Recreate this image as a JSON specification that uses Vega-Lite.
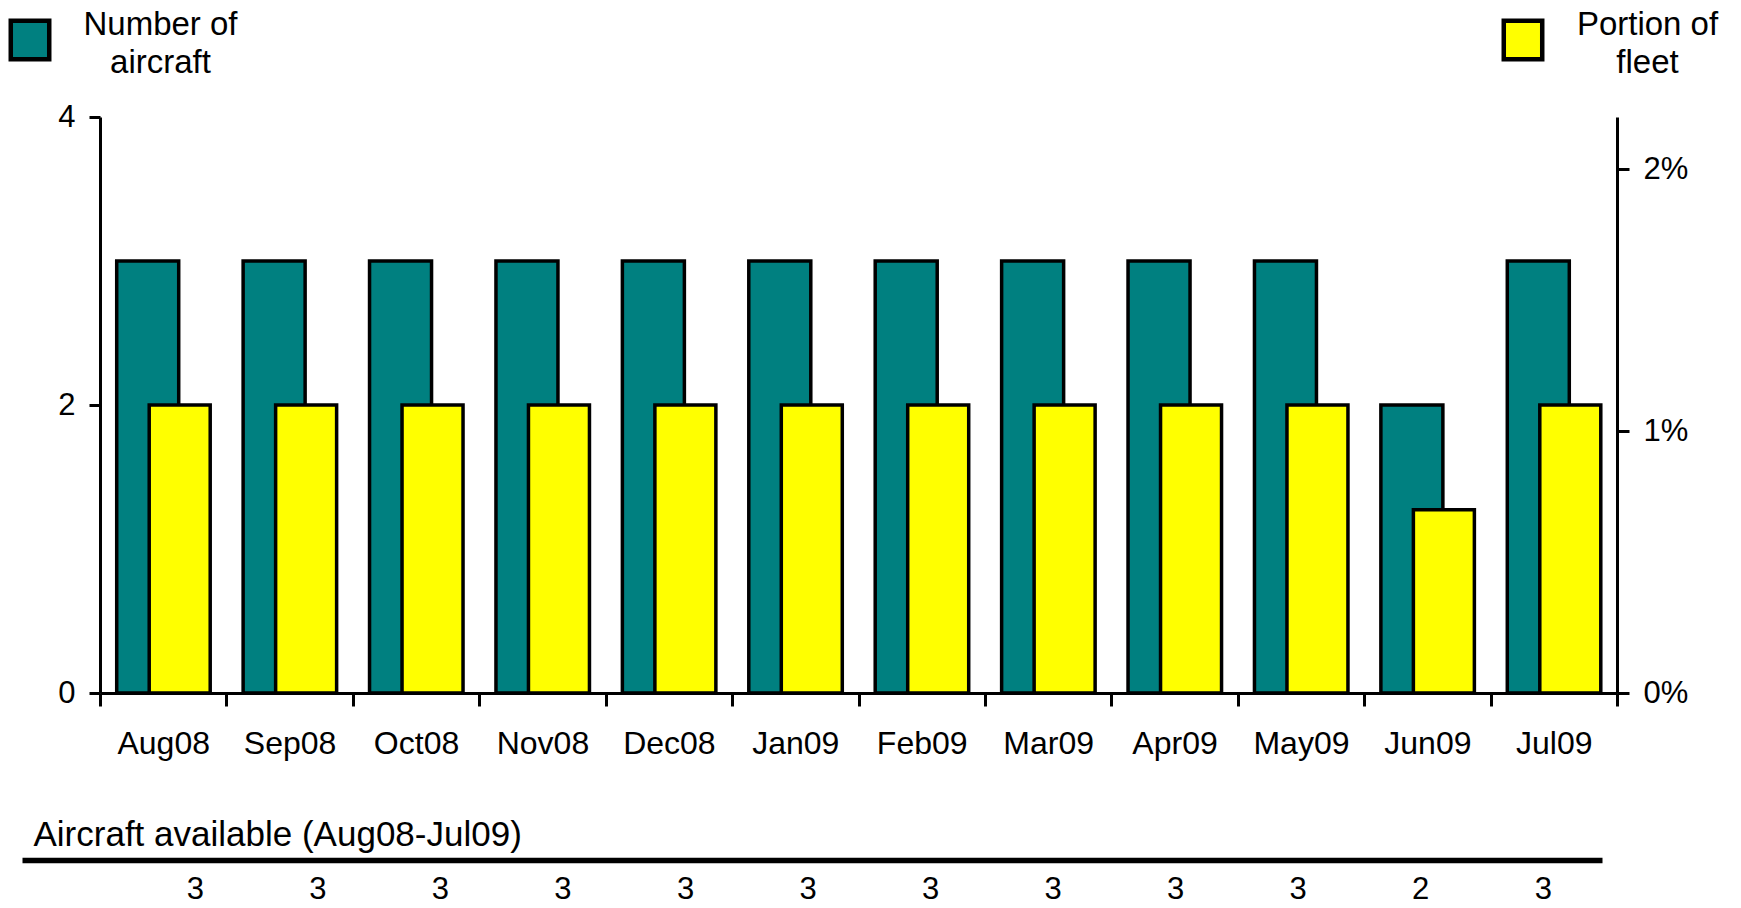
{
  "$schema": "https://vega.github.io/schema/vega-lite/v6.json",
  "background": "white",
  "padding": {"left": 8, "top": 18, "right": 0, "bottom": 0},
  "config": {
    "view": {"stroke": null},
    "font": "Liberation Sans",
    "axis": {"labelFont": "Liberation Sans", "titleFont": "Liberation Sans", "labelColor": "black", "titleColor": "black", "domainColor": "black", "tickColor": "black", "grid": false},
    "legend": {"labelFont": "Liberation Sans", "titleFont": "Liberation Sans"}
  },
  "data": {
    "values": [
      {"month": "Aug08", "aircraft": 3, "portion": 0.011, "available": 3},
      {"month": "Sep08", "aircraft": 3, "portion": 0.011, "available": 3},
      {"month": "Oct08", "aircraft": 3, "portion": 0.011, "available": 3},
      {"month": "Nov08", "aircraft": 3, "portion": 0.011, "available": 3},
      {"month": "Dec08", "aircraft": 3, "portion": 0.011, "available": 3},
      {"month": "Jan09", "aircraft": 3, "portion": 0.011, "available": 3},
      {"month": "Feb09", "aircraft": 3, "portion": 0.011, "available": 3},
      {"month": "Mar09", "aircraft": 3, "portion": 0.011, "available": 3},
      {"month": "Apr09", "aircraft": 3, "portion": 0.011, "available": 3},
      {"month": "May09", "aircraft": 3, "portion": 0.011, "available": 3},
      {"month": "Jun09", "aircraft": 2, "portion": 0.007, "available": 2},
      {"month": "Jul09", "aircraft": 3, "portion": 0.011, "available": 3}
    ]
  },
  "spacing": 58,
  "vconcat": [
    {
      "width": 1517,
      "height": 576,
      "layer": [
        {
          "mark": {"type": "bar", "stroke": "black", "strokeWidth": 3.5, "width": 62, "xOffset": -15.5},
          "encoding": {
            "x": {
              "field": "month", "type": "nominal", "sort": null,
              "scale": {"paddingInner": 0, "paddingOuter": 0},
              "axis": {
                "orient": "bottom", "title": null, "labelAngle": 0,
                "tickBand": "extent", "tickSize": 13, "tickWidth": 3,
                "domainWidth": 3, "labelFontSize": 32, "labelPadding": 22
              }
            },
            "y": {
              "field": "aircraft", "type": "quantitative",
              "scale": {"domain": [0, 4], "nice": false},
              "axis": {
                "orient": "left", "title": null, "values": [0, 2, 4],
                "tickSize": 11, "tickWidth": 3, "domainWidth": 3,
                "labelFontSize": 31, "labelPadding": 14
              }
            },
            "fill": {
              "datum": "Number of aircraft",
              "scale": {"range": ["#008080"]},
              "legend": {
                "orient": "none", "legendX": -91.5, "legendY": -98.5,
                "padding": 0,
                "title": ["Number of", "aircraft"],
                "titleOrient": "right", "titleAnchor": "middle",
                "titleBaseline": "middle", "titleAlign": "center",
                "titleFontSize": 33, "titleFontWeight": "normal",
                "titleLineHeight": 38, "titlePadding": 102, "titleColor": "black",
                "labelExpr": "''", "labelOffset": 0,
                "symbolType": "square", "symbolSize": 1480,
                "symbolStrokeWidth": 4.5, "symbolStrokeColor": "black"
              }
            }
          }
        },
        {
          "mark": {"type": "bar", "stroke": "black", "strokeWidth": 3.5, "width": 61, "xOffset": 16.5},
          "encoding": {
            "x": {"field": "month", "type": "nominal", "sort": null},
            "y": {
              "field": "portion", "type": "quantitative",
              "scale": {"domain": [0, 0.022], "nice": false},
              "axis": {
                "orient": "right", "title": null, "values": [0, 0.01, 0.02],
                "format": ".0%", "tickSize": 12, "tickWidth": 3, "domainWidth": 3,
                "labelFontSize": 31, "labelPadding": 14
              }
            },
            "fill": {
              "datum": "Portion of fleet",
              "scale": {"range": ["#FFFF00"]},
              "legend": {
                "orient": "none", "legendX": 1401.5, "legendY": -98.5,
                "padding": 0,
                "title": ["Portion of", "fleet"],
                "titleOrient": "right", "titleAnchor": "middle",
                "titleBaseline": "middle", "titleAlign": "center",
                "titleFontSize": 33, "titleFontWeight": "normal",
                "titleLineHeight": 38, "titlePadding": 96, "titleColor": "black",
                "labelExpr": "''", "labelOffset": 0,
                "symbolType": "square", "symbolSize": 1480,
                "symbolStrokeWidth": 4.5, "symbolStrokeColor": "black"
              }
            }
          }
        }
      ],
      "resolve": {"scale": {"y": "independent", "fill": "independent"}}
    },
    {
      "width": 1517,
      "height": 36,
      "mark": {"type": "text", "fontSize": 31, "font": "Liberation Sans", "color": "black", "baseline": "middle", "dy": 12},
      "encoding": {
        "x": {
          "field": "month", "type": "nominal", "sort": null,
          "scale": {"type": "point", "range": [-78, 1502], "padding": 0.947, "align": 0.747},
          "axis": {
            "orient": "top", "title": "Aircraft available (Aug08-Jul09)",
            "titleX": -67, "titleY": -26, "titleAlign": "left", "titleBaseline": "middle",
            "titleFontSize": 35, "titleFontWeight": "normal", "titleAngle": 0,
            "labels": false, "ticks": false, "domainWidth": 5.5
          }
        },
        "text": {"field": "available", "type": "quantitative"}
      }
    }
  ]
}
